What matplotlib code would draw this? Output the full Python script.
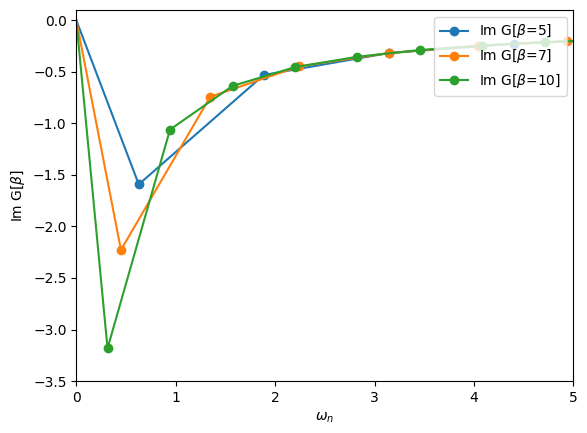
import matplotlib
matplotlib.use("Agg")
import matplotlib.pyplot as plt

w5 = [0, 0.628, 1.885, 3.142, 4.398, 5.655]
g5 = [0, -1.592, -0.531, -0.318, -0.227, -0.177]
w7 = [0, 0.449, 1.346, 2.244, 3.142, 4.039, 4.937, 5.834]
g7 = [0, -2.228, -0.743, -0.446, -0.318, -0.248, -0.203, -0.171]
w10 = [0, 0.314, 0.942, 1.571, 2.199, 2.827, 3.456, 4.084, 4.712, 5.341]
g10 = [0, -3.183, -1.061, -0.637, -0.455, -0.354, -0.289, -0.245, -0.212, -0.187]

fig, ax = plt.subplots(figsize=(5.87, 4.33), dpi=100)
for w, g, b in [(w5, g5, 5), (w7, g7, 7), (w10, g10, 10)]:
    ax.plot(w, g, 'o-', markevery=slice(1, None), label=rf'Im G[$\beta$={b}]')
ax.set_xlim(0, 5)
ax.set_ylim(-3.5, 0.1)
ax.set_xlabel(r'$\omega_n$')
ax.set_ylabel(r'Im G[$\beta$]')
ax.legend(loc='upper right')
fig.subplots_adjust(left=0.13, right=0.977, bottom=0.12, top=0.977)
fig.savefig('out.png')
